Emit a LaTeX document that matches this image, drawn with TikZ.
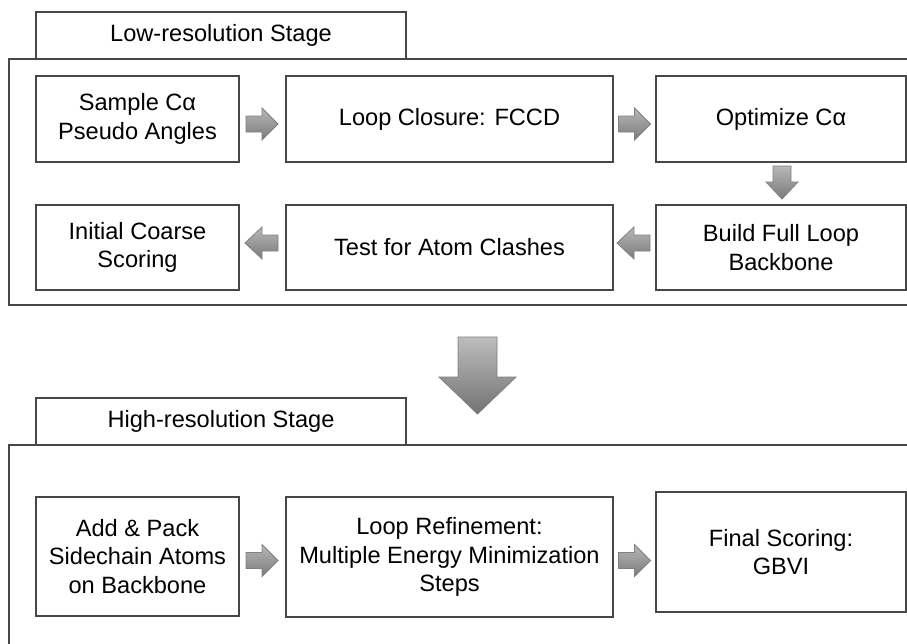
\documentclass[tikz,border=0pt]{standalone}
\usepackage{fontspec}
\setmainfont{Liberation Sans}
\begin{document}
\begin{tikzpicture}[x=1pt,y=-1pt,
  frameline/.style={draw=black!72, line width=1.3pt},
  box/.style={frameline, fill=white, inner sep=0pt, align=center,
    font=\fontsize{23.6}{28.5}\selectfont},
  blockarr/.style={draw=black!50, line width=0.8pt, top color=black!28, bottom color=black!52},
  bigarr/.style={draw=black!50, line width=0.8pt, top color=black!26, bottom color=black!55}]
\useasboundingbox (0,0) rectangle (907,643);
\clip (0,0) rectangle (907,643);
\fill[white] (0,0) rectangle (907,643);

% ---------- Low-resolution stage ----------
\node[box, minimum width=370, minimum height=47] (lowtab) at (221,35.5) {Low-resolution Stage};
\draw[frameline] (920,59) -- (9,59) -- (9,305) -- (920,305);

\node[box, minimum width=203, minimum height=86] (s1) at (137.5,119) {Sample Cα\\Pseudo Angles};
\node[box, minimum width=327, minimum height=86] (s2) at (449.5,119) {Loop Closure: FCCD};
\node[box, minimum width=250, minimum height=86] (s3) at (781,119) {Optimize Cα};
\node[box, minimum width=203, minimum height=85] (s6) at (137.5,247.5) {Initial Coarse\\Scoring};
\node[box, minimum width=327, minimum height=85] (s5) at (449.5,247.5) {Test for Atom Clashes};
\node[box, minimum width=250, minimum height=85] (s4) at (781,247.5) {Build Full Loop\\Backbone};

% right arrows
\path[blockarr] (246,116) -- (262,116) -- (262,108) -- (278,124) -- (262,140) -- (262,132) -- (246,132) -- cycle;
\path[blockarr] (618.5,116) -- (634.5,116) -- (634.5,108) -- (650.5,124) -- (634.5,140) -- (634.5,132) -- (618.5,132) -- cycle;
% down arrow
\path[blockarr] (773,166) -- (791,166) -- (791,182) -- (798,182) -- (782,199) -- (766,182) -- (773,182) -- cycle;
% left arrows
\path[blockarr] (650,235) -- (634,235) -- (634,227) -- (617,243) -- (634,259) -- (634,251) -- (650,251) -- cycle;
\path[blockarr] (278,235) -- (262,235) -- (262,227) -- (245,243) -- (262,259) -- (262,251) -- (278,251) -- cycle;

% big down arrow
\path[bigarr] (458,337) -- (497,337) -- (497,377) -- (516,377) -- (477.5,414) -- (439,377) -- (458,377) -- cycle;

% ---------- High-resolution stage ----------
\node[box, minimum width=370, minimum height=47] (hightab) at (221,421.5) {High-resolution Stage};
\draw[frameline] (920,445) -- (9,445) -- (9,660);

\node[box, minimum width=203, minimum height=119] (h1) at (137.5,556.5) {Add \& Pack\\Sidechain Atoms\\on Backbone};
\node[box, minimum width=327, minimum height=120] (h2) at (449.5,557) {Loop Refinement:\\Multiple Energy Minimization\\Steps};
\node[box, minimum width=250, minimum height=120] (h3) at (781,552) {Final Scoring:\\GBVI};

\path[blockarr] (246,552.5) -- (262,552.5) -- (262,544.5) -- (278,560.5) -- (262,576.5) -- (262,568.5) -- (246,568.5) -- cycle;
\path[blockarr] (618.5,552.5) -- (634.5,552.5) -- (634.5,544.5) -- (650.5,560.5) -- (634.5,576.5) -- (634.5,568.5) -- (618.5,568.5) -- cycle;
\end{tikzpicture}
\end{document}
